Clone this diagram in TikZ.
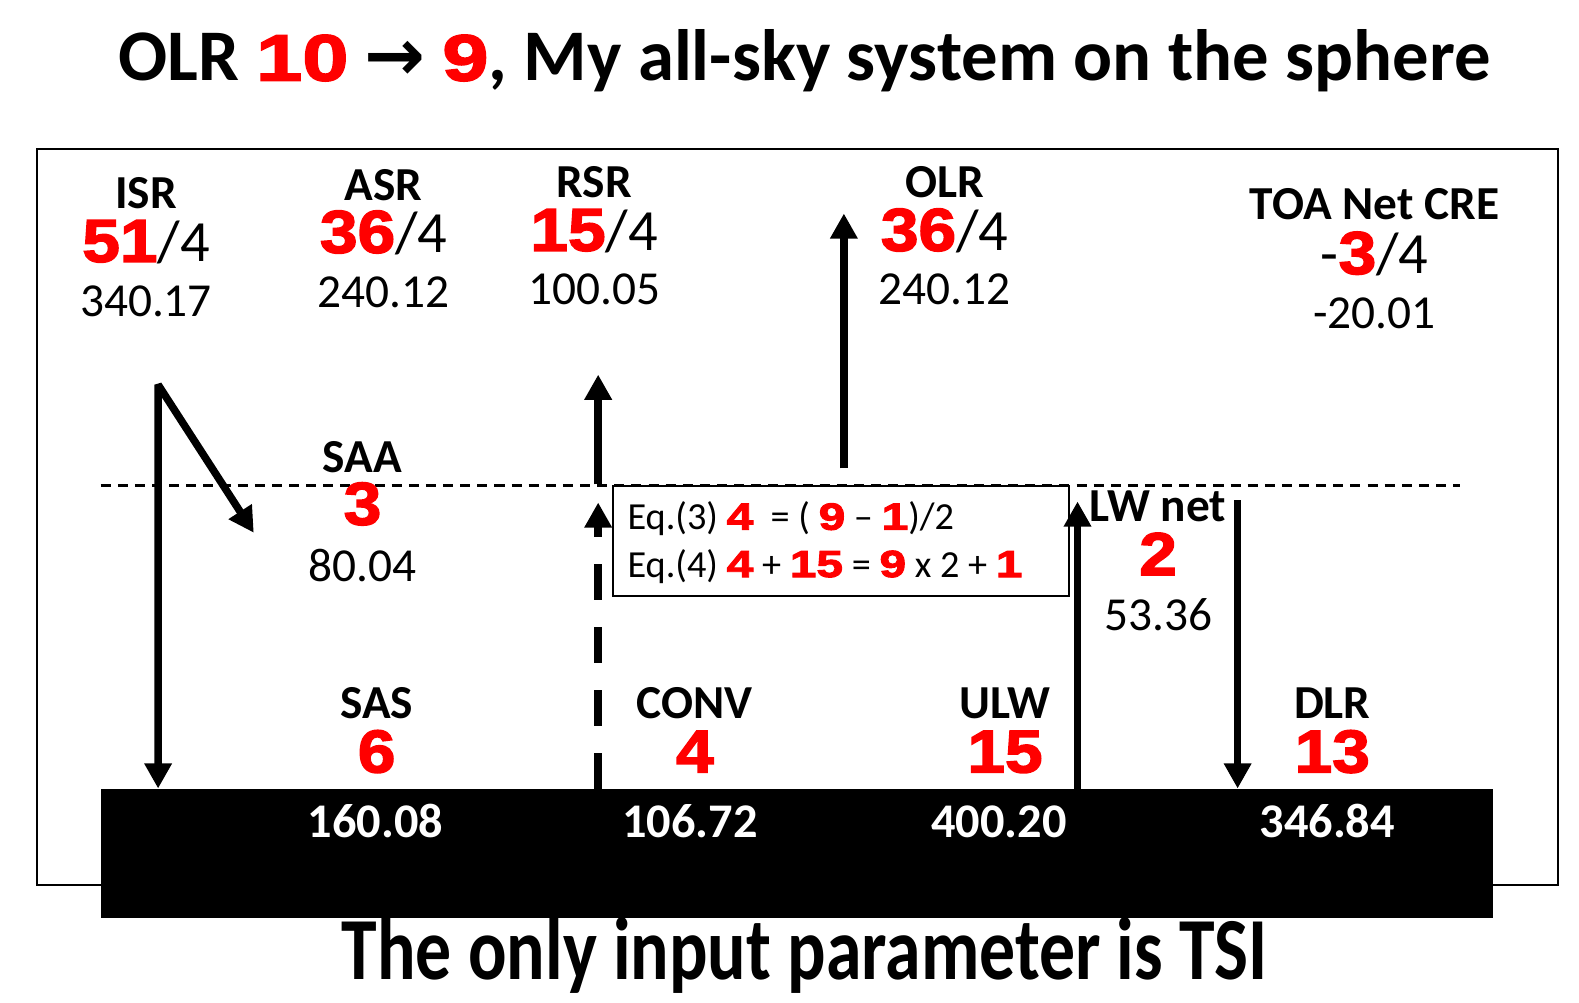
\documentclass[tikz,border=0pt]{standalone}
\usepackage{fontspec}
\usepackage{graphicx}
\setmainfont{Carlito}
\newfontfamily\arialblk{Liberation Sans Bold}[FakeBold=2.5,FakeStretch=1.12]
\newfontfamily\arialblkw{Liberation Sans Bold}[FakeBold=2.5,FakeStretch=1.27]
\newfontfamily\arrowf{DejaVu Sans}
\usetikzlibrary{arrows.meta}
\definecolor{myred}{RGB}{255,0,0}
\newcommand\rnb[1]{{\fontsize{60}{64}\selectfont\arialblk\color{myred}#1}}
\newcommand\rnt[1]{{\fontsize{65}{70}\selectfont\arialblkw\color{myred}#1}}
\newcommand\rne[1]{{\fontsize{37.5}{40}\selectfont\arialblkw\color{myred}#1}}
\tikzset{
  lab/.style={inner sep=0pt, anchor=base, font=\bfseries\fontsize{47}{50}\selectfont},
  frac/.style={inner sep=0pt, anchor=base, font=\fontsize{58}{62}\selectfont},
  val/.style={inner sep=0pt, anchor=base, font=\fontsize{47}{50}\selectfont},
  wval/.style={inner sep=0pt, anchor=base, text=white, font=\bfseries\fontsize{48}{50}\selectfont},
  bigtxt/.style={inner sep=0pt, anchor=base, font=\bfseries\fontsize{72.2}{78}\selectfont},
  eqtxt/.style={inner sep=0pt, anchor=base west, font=\fontsize{38}{40}\selectfont},
  thickarrow/.style={line width=7.5pt, -{Triangle[width=26pt,length=25pt]}},
}
\begin{document}
\begin{tikzpicture}[x=1pt,y=-1pt]
\useasboundingbox[fill=white] (0,0) rectangle (1568,996);
% frames
\draw[line width=2pt] (37,148) rectangle (1547,879);
\fill[black] (100,783) rectangle (1483,912);
\draw[line width=2.5pt, dash pattern=on 10pt off 7pt] (100,482) coordinate (dl) -- (1450,482) coordinate (dr);
\node[draw, fill=white, line width=1.5pt, minimum width=453pt, minimum height=109pt, anchor=north west, inner sep=0pt] (eqbox) at (608,482) {};
% title
\node[bigtxt] (title) at (799,80) {OLR \rnt{10} {\arrowf\bfseries →} \rnt{9}, My all-sky system on the sphere};
\node[inner sep=0pt, anchor=base, font=\bfseries\fontsize{88}{92}\selectfont] (bottom) at (799,973) {\scalebox{0.81}[1]{The only input parameter is TSI}};
% top labels
\node[lab] (isrL) at (145,207) {ISR};
\node[frac] (isrF) at (145,260) {\rnb{51}/4};
\node[val] (isrV) at (145,314) {340.17};
\node[lab] (asrL) at (381,199) {ASR};
\node[frac] (asrF) at (381,251) {\rnb{36}/4};
\node[val] (asrV) at (381,305) {240.12};
\node[lab] (rsrL) at (590,196) {RSR};
\node[frac] (rsrF) at (590,249) {\rnb{15}/4};
\node[val] (rsrV) at (590,302) {100.05};
\node[lab] (olrL) at (938,196) {OLR};
\node[frac] (olrF) at (938,249) {\rnb{36}/4};
\node[val] (olrV) at (938,302) {240.12};
\node[lab] (toaL) at (1365,218) {TOA Net CRE};
\node[frac] (toaF) at (1365,272) {-\rnb{3}/4};
\node[val] (toaV) at (1365,326) {-20.01};
% middle labels
\node[lab] (saaL) at (360,469) {SAA};
\node[frac] (saaF) at (360,521) {\rnb{3}};
\node[val] (saaV) at (360,577) {80.04};
\node[lab] (lwL) at (1150,518) {LW net};
\node[frac] (lwF) at (1150,571) {\rnb{2}};
\node[val] (lwV) at (1150,626) {53.36};
% surface labels
\node[lab] (sasL) at (374,713) {SAS};
\node[frac] (sasF) at (374,767) {\rnb{6}};
\node[wval] (sasV) at (373,832) {160.08};
\node[lab] (convL) at (690,713) {CONV};
\node[frac] (convF) at (690,767) {\rnb{4}};
\node[wval] (convV) at (685,832) {106.72};
\node[lab] (ulwL) at (998,713) {ULW};
\node[frac] (ulwF) at (998,767) {\rnb{15}};
\node[wval] (ulwV) at (992,832) {400.20};
\node[lab] (dlrL) at (1323,713) {DLR};
\node[frac] (dlrF) at (1323,767) {\rnb{13}};
\node[wval] (dlrV) at (1318,832) {346.84};
% equations
\node[eqtxt] (eq3) at (623,526) {Eq.(3) \rne{4}\ \ = ( \rne{9} – \rne{1})/2};
\node[eqtxt] (eq4) at (623,573) {Eq.(4) \rne{4} + \rne{15} = \rne{9} x 2 + \rne{1}};
% arrow coordinates
\coordinate (isrTop) at (157,382);
\coordinate (isrBot) at (157,783);
\coordinate (saaTip) at (252,529);
\coordinate (rsrBot) at (594,481);
\coordinate (rsrTip) at (594,372);
\coordinate (convBot) at (594,783);
\coordinate (convTip) at (594,499);
\coordinate (olrBot) at (838,465);
\coordinate (olrTip) at (838,212);
\coordinate (ulwBot) at (1070,783);
\coordinate (ulwTip) at (1070,498);
\coordinate (dlrTop) at (1229,497);
\coordinate (dlrTip) at (1229,783);
% arrows
\draw[line width=7.5pt, line join=bevel, {Triangle[width=26pt,length=25pt]}-{Triangle[width=26pt,length=25pt]}] (saaTip) -- (isrTop) -- (isrBot);
\draw[thickarrow] (rsrBot) -- (rsrTip);
\draw[thickarrow, dash pattern=on 35.7pt off 26.8pt] (convBot) -- (convTip);
\draw[thickarrow] (olrBot) -- (olrTip);
\draw[thickarrow] (ulwBot) -- (ulwTip);
\draw[thickarrow] (dlrTop) -- (dlrTip);
\end{tikzpicture}
\end{document}
